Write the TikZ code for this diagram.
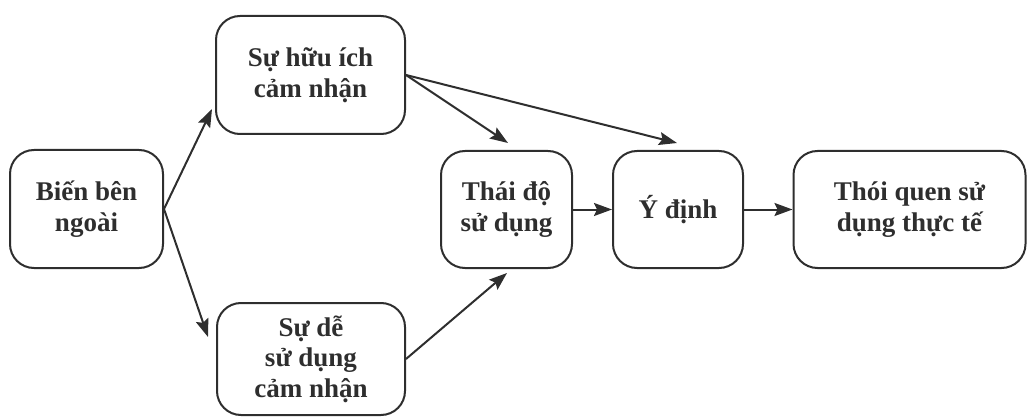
\documentclass[tikz,border=0pt]{standalone}
\usepackage{fontspec}
\setmainfont{Liberation Serif}
\usetikzlibrary{arrows.meta}
\definecolor{ink}{HTML}{2E2E2E}
\begin{document}
\begin{tikzpicture}[x=1pt,y=-1pt,
  box/.style={draw=ink, line width=2pt, rounded corners=24pt, inner sep=0pt,
    align=center, text=ink, font=\fontsize{27}{30.5}\selectfont\bfseries},
  link/.style={draw=ink, line width=2pt,
    -{Stealth[length=18pt,width=13pt,inset=3pt]}}]
\useasboundingbox (0,0) rectangle (1028,417);
% boxes
\node[box, minimum width=153pt, minimum height=118pt] (ext) at (86.5,209) {Biến bên\\ngoài};
\node[box, minimum width=189pt, minimum height=118pt] (pu) at (310.5,75) {Sự hữu ích\\cảm nhận};
\node[box, minimum width=188pt, minimum height=112pt] (peou) at (311,359) {Sự dễ\\sử dụng\\cảm nhận};
\node[box, minimum width=131pt, minimum height=117pt] (att) at (506.5,209.5) {Thái độ\\sử dụng};
\node[box, minimum width=130pt, minimum height=117pt] (bi) at (678,209.5) {Ý định};
\node[box, minimum width=232pt, minimum height=117pt] (use) at (909.5,209.5) {Thói quen sử\\dụng thực tế};
% arrow tips that stop short of the boxes
\coordinate (toPU) at (212,109);
\coordinate (toPEOU) at (208,337);
\coordinate (puATT) at (508,143);
\coordinate (puBI) at (677,143);
\coordinate (peouATT) at (507,273);
% connectors
\draw[link] (ext.east) -- (toPU);
\draw[link] (ext.east) -- (toPEOU);
\draw[link] (pu.east) -- (puATT);
\draw[link] (pu.east) -- (puBI);
\draw[link] (peou.east) -- (peouATT);
\draw[link] (att.east) -- (bi.west);
\draw[link] (bi.east) -- (use.west);
\end{tikzpicture}
\end{document}
